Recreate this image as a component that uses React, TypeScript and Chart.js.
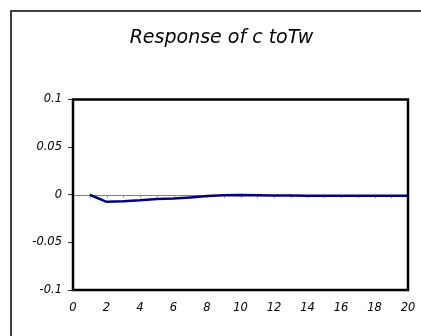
import React, { useEffect, useRef } from "react";
import { Chart, registerables } from "chart.js";

Chart.register(...registerables);

const titleText = "Response of c toTw";
const periods = [1, 2, 3, 4, 5, 6, 7, 8, 9, 10, 11, 12, 13, 14, 15, 16, 17, 18, 19, 20];
const responseC = [
  0, -0.0074, -0.0068, -0.0058, -0.0044, -0.004, -0.0028, -0.0013, -0.0005, -0.0003,
  -0.0005, -0.0008, -0.0009, -0.001, -0.001, -0.001, -0.001, -0.0011, -0.0011, -0.0011,
];
const xTickValues = [0, 2, 4, 6, 8, 10, 12, 14, 16, 18, 20];
const yTickValues = [-0.1, -0.05, 0, 0.05, 0.1];
const yTickLabels = ["-0.1", "-0.05", "0", "0.05", "0.1"];

const FONT = "'DejaVu Sans', 'Liberation Sans', Arial, sans-serif";

const framePlugin = {
  id: "framePlugin",
  beforeDatasetsDraw(chart: any) {
    const { ctx, chartArea, scales } = chart;
    const y0 = scales.y.getPixelForValue(0);
    ctx.save();
    ctx.strokeStyle = "#808080";
    ctx.lineWidth = 1;
    ctx.beginPath();
    ctx.moveTo(chartArea.left, Math.round(y0) + 0.5);
    ctx.lineTo(chartArea.right, Math.round(y0) + 0.5);
    ctx.stroke();
    ctx.strokeStyle = "#a0a0a0";
    ctx.beginPath();
    for (let i = 1; i < 20; i++) {
      const px = Math.round(scales.x.getPixelForValue(i)) + 0.5;
      ctx.moveTo(px, Math.round(y0) + 1);
      ctx.lineTo(px, Math.round(y0) + 3);
    }
    ctx.stroke();
    ctx.restore();
  },
  afterDatasetsDraw(chart: any) {
    const { ctx, chartArea } = chart;
    ctx.save();
    ctx.strokeStyle = "#000000";
    ctx.lineWidth = 2.5;
    ctx.strokeRect(
      chartArea.left,
      chartArea.top,
      chartArea.right - chartArea.left,
      chartArea.bottom - chartArea.top
    );
    ctx.fillStyle = "#000";
    ctx.font = `italic 19px ${FONT}`;
    ctx.textAlign = "center";
    ctx.textBaseline = "middle";
    ctx.fillText(titleText, 221.5, 38.5);
    ctx.restore();
  },
};

export default function App() {
  const canvasRef = useRef<HTMLCanvasElement | null>(null);

  useEffect(() => {
    if (!canvasRef.current) return;
    const chart = new Chart(canvasRef.current, {
      type: "line",
      data: {
        labels: periods,
        datasets: [
          {
            data: periods.map((p, i) => ({ x: p, y: responseC[i] })),
            borderColor: "#000080",
            borderWidth: 2.5,
            pointRadius: 0,
            tension: 0,
            fill: false,
          },
        ],
      },
      options: {
        animation: false,
        responsive: false,
        maintainAspectRatio: false,
        layout: { padding: { left: 0, right: 13, top: 99.5, bottom: 0 } },
        plugins: {
          legend: { display: false },
          tooltip: { enabled: false },
          title: { display: false },
        },
        scales: {
          x: {
            type: "linear",
            min: 0,
            max: 20,
            afterBuildTicks: (scale: any) => {
              scale.ticks = xTickValues.map((v) => ({ value: v }));
            },
            afterFit: (scale: any) => {
              scale.height = 46;
              scale.paddingLeft = 0;
              scale.paddingRight = 0;
            },
            grid: { display: false, drawTicks: false, tickLength: 0 },
            border: { display: false },
            ticks: {
              color: "#000",
              padding: 11,
              maxRotation: 0,
              autoSkip: false,
              font: { family: FONT, size: 11.5, style: "italic" },
              callback: (v: any) => String(v),
            },
          },
          y: {
            type: "linear",
            min: -0.1,
            max: 0.1,
            afterBuildTicks: (scale: any) => {
              scale.ticks = yTickValues.map((v) => ({ value: v }));
            },
            afterFit: (scale: any) => {
              scale.width = 73;
              scale.paddingTop = 0;
              scale.paddingBottom = 0;
            },
            grid: {
              display: true,
              drawOnChartArea: false,
              drawTicks: true,
              tickLength: 5,
              color: "#333",
              lineWidth: 1,
            },
            border: { display: false },
            ticks: {
              color: "#000",
              padding: 6,
              autoSkip: false,
              font: { family: FONT, size: 11.5, style: "italic" },
              callback: (v: any) => {
                const idx = yTickValues.findIndex((t) => Math.abs(t - Number(v)) < 1e-9);
                return idx >= 0 ? yTickLabels[idx] : "";
              },
            },
          },
        },
      },
      plugins: [framePlugin],
    });
    return () => chart.destroy();
  }, []);

  return (
    <div
      style={{
        position: "fixed",
        left: 0,
        top: 0,
        width: 421,
        height: 336,
        overflow: "hidden",
        background: "#fff",
      }}
    >
      <canvas
        ref={canvasRef}
        width={421}
        height={336}
        style={{ position: "absolute", left: 0, top: 0, width: 421, height: 336 }}
      />
      <div
        style={{
          position: "absolute",
          left: 10,
          top: 10,
          width: 440,
          height: 360,
          border: "2px solid #404040",
          pointerEvents: "none",
        }}
      />
    </div>
  );
}
